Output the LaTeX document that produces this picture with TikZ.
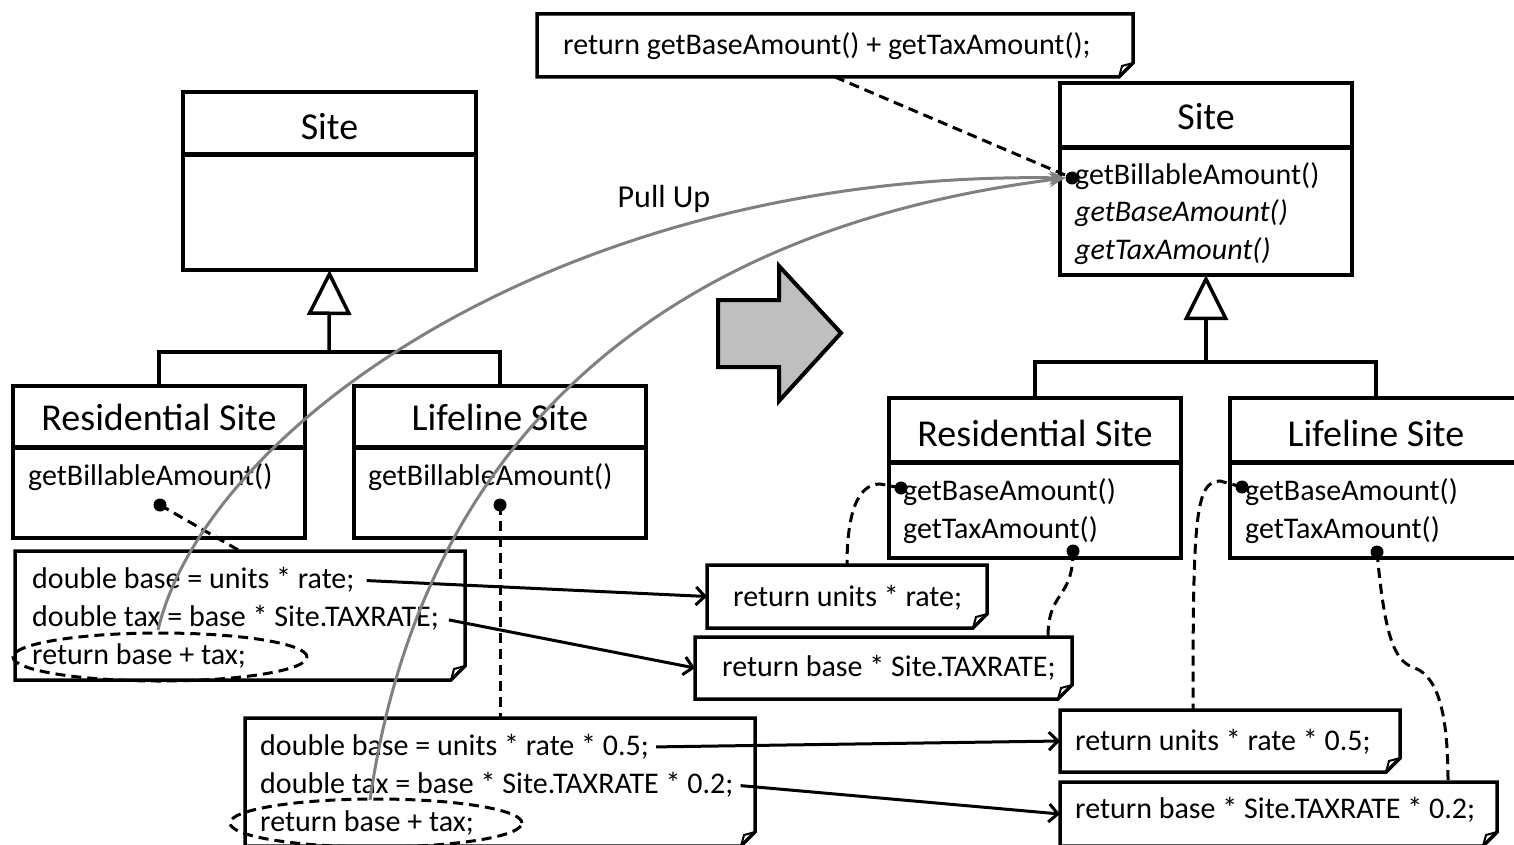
\documentclass[tikz,border=0pt]{standalone}
\usepackage{fontspec}
\setmainfont{Carlito}
\usetikzlibrary{arrows.meta,shapes.geometric}

% note outline with a folded bottom-right corner
\newcommand{\notebody}[1]{%
  \draw[noteline] (#1.north west) -- (#1.north east) -- ([yshift=14pt]#1.south east)
    -- ([xshift=-14pt]#1.south east) -- (#1.south west) -- cycle;
  \draw[noteline, line width=2pt] ([yshift=14pt]#1.south east) -- ([xshift=-11pt,yshift=11pt]#1.south east)
    -- ([xshift=-14pt]#1.south east);
}

\begin{document}
\begin{tikzpicture}[x=1pt,y=-1pt,
  classbox/.style={draw, line width=3.5pt, inner sep=0pt, outer sep=0pt},
  divider/.style={line width=5pt},
  titletext/.style={font=\fontsize{38}{40}\selectfont, inner sep=0pt},
  member/.style={font=\fontsize{30}{32}\selectfont, inner sep=0pt, anchor=west},
  code/.style={font=\fontsize{30}{32}\selectfont, inner sep=0pt, anchor=west},
  notebox/.style={inner sep=0pt, outer sep=0pt},
  noteline/.style={line width=3.5pt, line join=miter},
  inh/.style={line width=3.5pt},
  gen/.style={inh, -{Triangle[open, length=45pt, width=44pt]}},
  dot/.style={circle, fill=black, minimum size=13pt, inner sep=0pt},
  tie/.style={line width=3pt, dash pattern=on 10pt off 6pt},
  ring/.style={ellipse, draw, line width=3pt, dash pattern=on 10pt off 6pt, inner sep=0pt},
  flow/.style={line width=3pt, -{Straight Barb[length=9pt, width=18pt]}},
  pull/.style={line width=3pt, draw=gray, -{Stealth[length=16pt, width=14pt]}},
]
\useasboundingbox (0,0) rectangle (1514,845);

% ---------- left hierarchy ----------
\node[classbox, minimum width=293pt, minimum height=178pt] (siteL) at (329.5,181) {};
\draw[divider] ([yshift=-63pt]siteL.north west) -- ([yshift=-63pt]siteL.north east);
\node[titletext] (siteLt) at (329.5,127) {Site};

\node[classbox, minimum width=292pt, minimum height=152pt] (resL) at (159,462) {};
\draw[divider] ([yshift=-61pt]resL.north west) -- ([yshift=-61pt]resL.north east);
\node[titletext] (resLt) at (159,417) {Residential Site};
\node[member] (resLm) at (28,477) {getBillableAmount()};
\node[dot] (resLd) at (160,505) {};

\node[classbox, minimum width=292pt, minimum height=152pt] (lifL) at (500,462) {};
\draw[divider] ([yshift=-61pt]lifL.north west) -- ([yshift=-61pt]lifL.north east);
\node[titletext] (lifLt) at (500,417) {Lifeline Site};
\node[member] (lifLm) at (368,477) {getBillableAmount()};
\node[dot] (lifLd) at (500,505) {};

\coordinate (barL) at (329,352);
\draw[inh] (resL.north) |- (barL) -| (lifL.north);
\draw[gen] (barL) -- (siteL.south);

% ---------- right hierarchy ----------
\node[classbox, minimum width=292pt, minimum height=192pt] (siteR) at (1206,179) {};
\draw[divider] ([yshift=-65pt]siteR.north west) -- ([yshift=-65pt]siteR.north east);
\node[titletext] (siteRt) at (1206,117) {Site};
\node[member] (siteRm1) at (1075,176) {getBillableAmount()};
\node[member] (siteRm2) at (1075,213) {\itshape getBaseAmount()};
\node[member] (siteRm3) at (1075,251) {\itshape getTaxAmount()};
\node[dot] (siteRd) at (1072,178) {};

\node[classbox, minimum width=292pt, minimum height=160pt] (resR) at (1035,478) {};
\draw[divider] ([yshift=-64pt]resR.north west) -- ([yshift=-64pt]resR.north east);
\node[titletext] (resRt) at (1035,433) {Residential Site};
\node[member] (resRm1) at (903,492) {getBaseAmount()};
\node[member] (resRm2) at (903,530) {getTaxAmount()};
\node[dot] (resRd1) at (901,488) {};
\node[dot] (resRd2) at (1073,551) {};

\node[classbox, minimum width=292pt, minimum height=160pt] (lifR) at (1376,478) {};
\draw[divider] ([yshift=-64pt]lifR.north west) -- ([yshift=-64pt]lifR.north east);
\node[titletext] (lifRt) at (1376,433) {Lifeline Site};
\node[member] (lifRm1) at (1245,492) {getBaseAmount()};
\node[member] (lifRm2) at (1245,530) {getTaxAmount()};
\node[dot] (lifRd1) at (1242,487) {};
\node[dot] (lifRd2) at (1377,552) {};

\coordinate (barR) at (1206,362);
\draw[inh] (resR.north) |- (barR) -| (lifR.north);
\draw[gen] (barR) -- (siteR.south);

% ---------- code notes ----------
\node[notebox, minimum width=596pt, minimum height=63pt] (noteTop) at (835,45.5) {};
\notebody{noteTop}
\node[code] (topc) at (563,46) {return getBaseAmount() + getTaxAmount();};

\node[notebox, minimum width=450pt, minimum height=129pt] (noteA) at (240,615.5) {};
\notebody{noteA}
\node[code] (a1) at (32,580) {double base = units * rate;};
\node[code] (a2) at (32,618) {double tax = base * Site.TAXRATE;};
\node[code] (a3) at (32,656) {return base + tax;};
\node[ring, minimum width=294pt, minimum height=48pt] (a3e) at (160,657) {};

\node[notebox, minimum width=510pt, minimum height=128pt] (noteB) at (500,782) {};
\notebody{noteB}
\node[code] (b1) at (260,747) {double base = units * rate * 0.5;};
\node[code] (b2) at (260,785) {double tax = base * Site.TAXRATE * 0.2;};
\node[code] (b3) at (260,823) {return base + tax;};
\node[ring, minimum width=292pt, minimum height=48pt] (b3e) at (376,823) {};

\node[notebox, minimum width=280pt, minimum height=63pt] (note1) at (847,596.5) {};
\notebody{note1}
\node[code] (n1) at (733,598) {return units * rate;};

\node[notebox, minimum width=377pt, minimum height=62pt] (note2) at (883.5,668) {};
\notebody{note2}
\node[code] (n2) at (722,668) {return base * Site.TAXRATE;};

\node[notebox, minimum width=340pt, minimum height=62pt] (note3) at (1230,741) {};
\notebody{note3}
\node[code] (n3) at (1075,742) {return units * rate * 0.5;};

\node[notebox, minimum width=437pt, minimum height=64pt] (note4) at (1278.5,814) {};
\notebody{note4}
\node[code] (n4) at (1075,810) {return base * Site.TAXRATE * 0.2;};

% ---------- moved statements ----------
\draw[flow, shorten <=12pt] (a1.east) -- (note1.west);
\draw[flow, shorten <=10pt] (a2.east) -- (note2.west);
\draw[flow, shorten <=7pt] (b1.east) -- (note3.west);
\draw[flow, shorten <=7pt] (b2.east) -- (note4.west);

% ---------- note attachments ----------
\draw[tie] (resLd.center) -- (noteA.north);
\draw[tie] (lifLd.center) -- (noteB.north);
\draw[tie] (noteTop.south) -- (siteRd.center);
\draw[tie] (resRd1.center) -- (880,484) .. controls (855,484) and (847,520) .. (note1.north);
\draw[tie] (resRd2.center) .. controls (1073,600) and (1048,590) .. ([xshift=-24pt]note2.north east);
\draw[tie] (lifRd1.center) -- (1220,481) .. controls (1195,481) and (1193,520) .. ([xshift=133pt]note3.north west);
\draw[tie] (lifRd2.center) .. controls (1385,640) and (1395,662) .. (1415,668)
  .. controls (1440,678) and (1448,720) .. ([xshift=-49pt]note4.north east);

% ---------- refactoring arrow ----------
\draw[line width=4pt, fill=black!25, line join=miter]
  (718,300) -- (779,300) -- (779,266) -- (841,333) -- (779,401) -- (779,367) -- (718,367) -- cycle;

% ---------- pull up curves ----------
\coordinate (pullA) at (158,630);
\coordinate (pullB) at (370,800);
\draw[pull] (pullA) .. controls (205,430) and (560,170) .. (siteRd.west);
\draw[pull] (pullB) .. controls (420,450) and (650,230) .. (siteRd.west);
\node[font=\fontsize{32}{34}\selectfont, inner sep=0pt] (pullLbl) at (664,199) {Pull Up};

\end{tikzpicture}
\end{document}
